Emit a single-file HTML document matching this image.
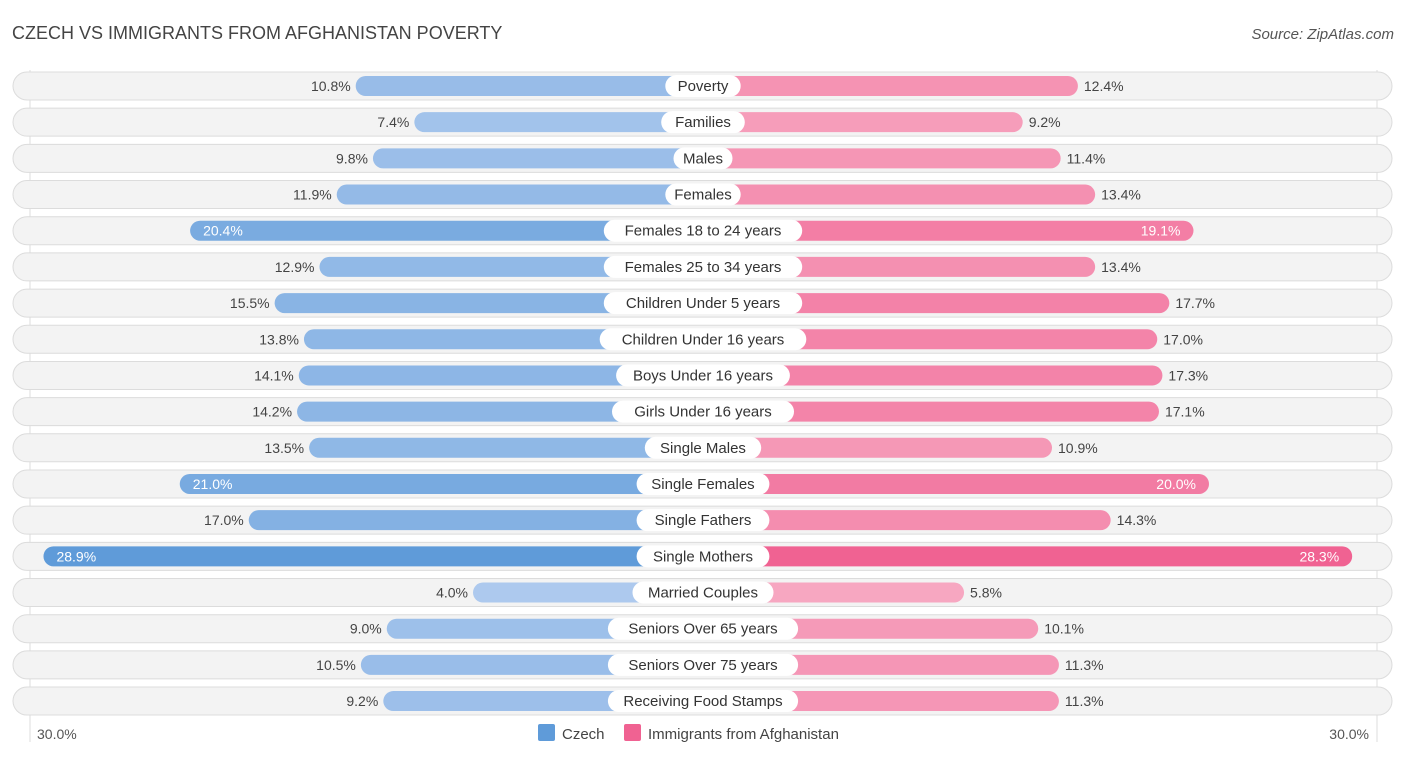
<!DOCTYPE html>
<html><head><meta charset="utf-8"><style>
body{margin:0;background:#fff;font-family:"Liberation Sans",sans-serif;}
svg text{font-family:"Liberation Sans",sans-serif;}
</style></head><body>
<svg id="chart" width="1406" height="758" xmlns="http://www.w3.org/2000/svg">
<text x="12" y="39" font-size="18" fill="#444">CZECH VS IMMIGRANTS FROM AFGHANISTAN POVERTY</text>
<text x="1394" y="39" font-size="15" fill="#555" text-anchor="end" font-style="italic">Source: ZipAtlas.com</text>
<line x1="30" y1="70" x2="30" y2="742" stroke="#ddd"/>
<line x1="1377" y1="70" x2="1377" y2="742" stroke="#ddd"/>
<g id="rows"></g>
<text x="37" y="739" font-size="14" fill="#555">30.0%</text>
<text x="1369" y="739" font-size="14" fill="#555" text-anchor="end">30.0%</text>
<g>
<rect x="538" y="724" width="17" height="17" rx="2" fill="#5f9bd9"/>
<text x="562" y="739" font-size="15" fill="#444">Czech</text>
<rect x="624" y="724" width="17" height="17" rx="2" fill="#f06292"/>
<text x="648" y="739" font-size="15" fill="#444">Immigrants from Afghanistan</text>
</g>
</svg>
<script>
const categories=["Poverty","Families","Males","Females","Females 18 to 24 years","Females 25 to 34 years","Children Under 5 years","Children Under 16 years","Boys Under 16 years","Girls Under 16 years","Single Males","Single Females","Single Fathers","Single Mothers","Married Couples","Seniors Over 65 years","Seniors Over 75 years","Receiving Food Stamps"];
const czech=[10.8,7.4,9.8,11.9,20.4,12.9,15.5,13.8,14.1,14.2,13.5,21.0,17.0,28.9,4.0,9.0,10.5,9.2];
const afghan=[12.4,9.2,11.4,13.4,19.1,13.4,17.7,17.0,17.3,17.1,10.9,20.0,14.3,28.3,5.8,10.1,11.3,11.3];
const NS="http://www.w3.org/2000/svg";
const cx=703, scale=17.25, offset=161, y0=86, step=36.18;
const g=document.getElementById('rows');
function mk(t,a){const e=document.createElementNS(NS,t);for(const k in a)e.setAttribute(k,a[k]);return e;}
function mix(c1,c2,t){return 'rgb('+c1.map((v,i)=>Math.round(v+(c2[i]-v)*t)).join(',')+')';}
function xs(v){return offset+v*scale;}
categories.forEach((c,i)=>{
  const y=y0+i*step;
  const row=mk('g',{});
  
  
  const bg=mk('rect',{x:13,y:y-14,width:1379,height:28,rx:14,fill:'#f3f3f3',stroke:'#dcdcdc'});
  
  
  row.appendChild(bg);
  const lw=xs(czech[i]), rw=xs(afghan[i]);
  const tl=Math.min(1,Math.max(0,(czech[i]-4)/25)), tr=Math.min(1,Math.max(0,(afghan[i]-5)/23));
  const lb=mk('rect',{x:cx-lw,y:y-10,width:lw+10,height:20,rx:10,fill:mix([173,201,238],[95,155,217],tl)});
  
  
  row.appendChild(lb);
  const rb=mk('rect',{x:cx-10,y:y-10,width:rw+10,height:20,rx:10,fill:mix([247,170,195],[240,98,146],tr)});
  
  
  row.appendChild(rb);
  const lab=mk('text',{x:cx,y:y+5,'font-size':15,fill:'#333','text-anchor':'middle'});
  lab.textContent=c;
  row.appendChild(lab);
  const w=c.length*8.2+18;
  const pill=mk('rect',{x:cx-w/2,y:y-11,width:w,height:22,rx:11,fill:'#fff'});
  
  
  row.insertBefore(pill,lab);
  const inL=czech[i]>=18, inR=afghan[i]>=18;
  const lv=mk('text',{x:inL?cx-lw+13:cx-lw-5,y:y+5,'font-size':14,fill:inL?'#fff':'#444','text-anchor':inL?'start':'end'});
  lv.textContent=czech[i].toFixed(1)+'%';
  
  
  row.appendChild(lv);
  const rv=mk('text',{x:inR?cx+rw-13:cx+rw+6,y:y+5,'font-size':14,fill:inR?'#fff':'#444','text-anchor':inR?'end':'start'});
  rv.textContent=afghan[i].toFixed(1)+'%';
  
  
  row.appendChild(rv);
  g.appendChild(row);
});
</script>
</body></html>
